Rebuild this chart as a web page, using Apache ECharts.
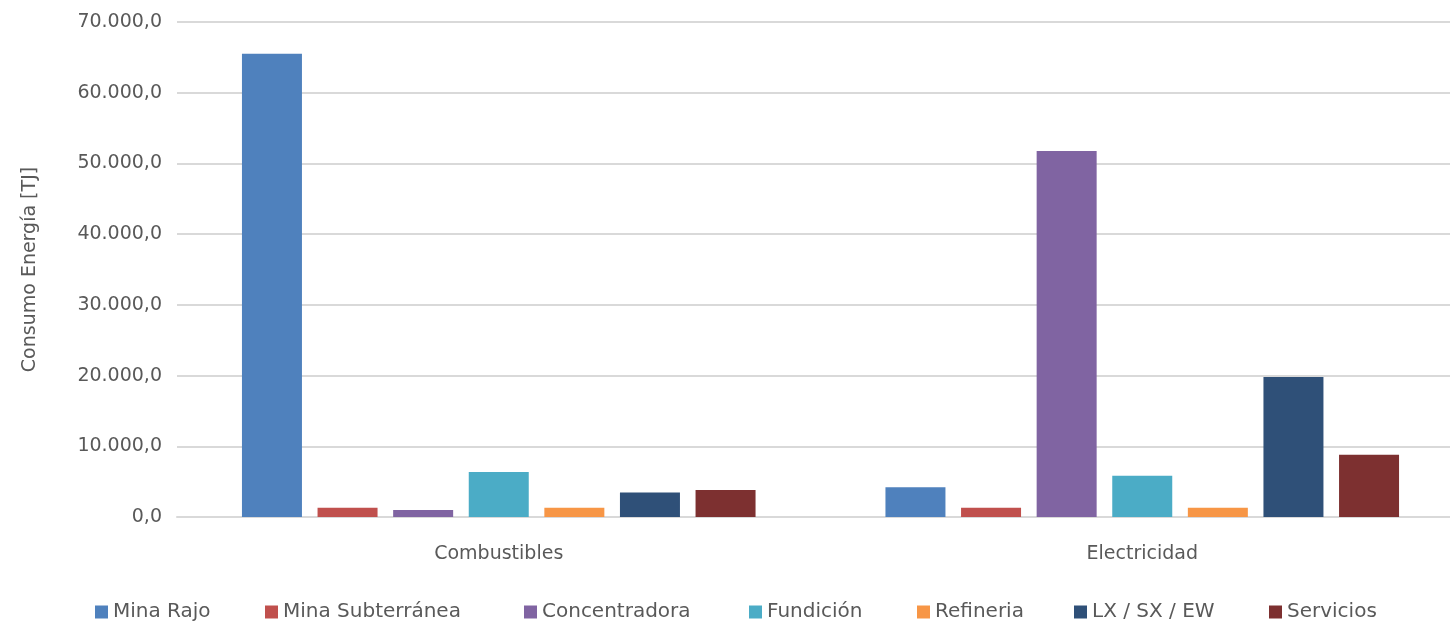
<!DOCTYPE html>
<html>
<head>
<meta charset="utf-8">
<script src="https://cdn.jsdelivr.net/npm/echarts@6/dist/echarts.min.js"></script>
<style>html,body{margin:0;padding:0;background:#fff}#c{width:1450px;height:630px}</style>
</head>
<body>
<div id="c"></div>
<script>
const categories = ['Combustibles', 'Electricidad'];
const seriesNames = ['Mina Rajo', 'Mina Subterránea', 'Concentradora', 'Fundición', 'Refineria', 'LX / SX / EW', 'Servicios'];
const minaRajo = [65500, 4200];
const minaSubterranea = [1300, 1300];
const concentradora = [1000, 51750];
const fundicion = [6350, 5850];
const refineria = [1300, 1300];
const lxSxEw = [3450, 19800];
const servicios = [3830, 8800];
const colors = ['#4F81BD', '#C0504D', '#8064A2', '#4BACC6', '#F79646', '#2F5078', '#7D3030'];
const values = [minaRajo, minaSubterranea, concentradora, fundicion, refineria, lxSxEw, servicios];
// layout: left edge of each legend entry
const legendLeft = [95, 265, 524, 749, 917, 1074, 1269];

function fmt(v) {
  const s = Math.round(v).toString().replace(/\B(?=(\d{3})+(?!\d))/g, '.');
  return s + ',0';
}
const FONT = 'DejaVu Sans';
const chart = echarts.init(document.getElementById('c'), null, {renderer: 'canvas'});
chart.setOption({
  animation: false,
  color: colors,
  grid: {left: 177, right: -14, top: 22, bottom: 113, outerBoundsMode: 'none', containLabel: false},
  legend: seriesNames.map((n, i) => ({
    top: 602, left: legendLeft[i], padding: 0,
    itemWidth: 13, itemHeight: 13,
    icon: 'rect',
    textStyle: {color: '#595959', fontSize: 20, fontFamily: FONT},
    data: [n]
  })),
  xAxis: {
    type: 'category', data: categories,
    axisLine: {lineStyle: {color: '#d9d9d9', width: 2}},
    axisTick: {show: false},
    axisLabel: {color: '#595959', fontSize: 19, fontFamily: FONT, margin: 28}
  },
  yAxis: {
    type: 'value', min: 0, max: 70000, interval: 10000,
    name: 'Consumo Energía [TJ]', nameLocation: 'middle', nameGap: 137, nameRotate: 90,
    nameTextStyle: {color: '#595959', fontSize: 19, fontFamily: FONT},
    axisLine: {show: false}, axisTick: {show: false},
    axisLabel: {color: '#595959', fontSize: 19, fontFamily: FONT, margin: 15, formatter: fmt},
    splitLine: {lineStyle: {color: '#d9d9d9', width: 2}}
  },
  series: seriesNames.map((n, i) => ({
    name: n, type: 'bar', data: values[i], barWidth: 60, barGap: '26%',
    itemStyle: {color: colors[i]}
  }))
});
</script>
</body>
</html>
